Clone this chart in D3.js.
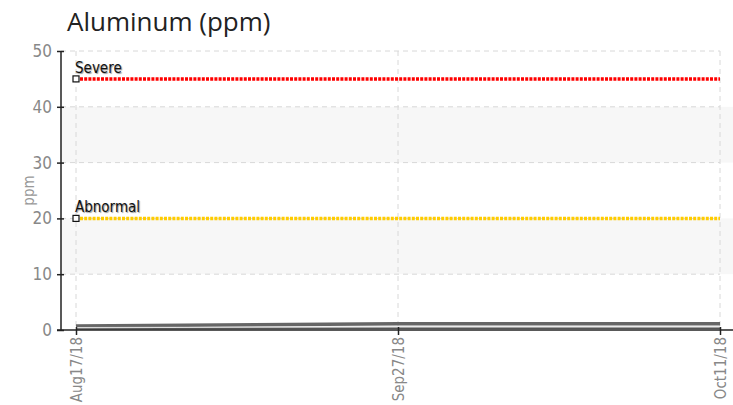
<!DOCTYPE html>
<html>
<head>
<meta charset="utf-8">
<script src="https://cdn.jsdelivr.net/npm/d3@7"></script>
<style>
  body { margin: 0; background: #fff; }
  svg { display: block; }
  .narrow, .tick text { font-family: "DejaVu Sans", sans-serif; font-stretch: condensed; }
</style>
</head>
<body>
<div id="chart"></div>
<script>
// Aluminum (ppm) trend chart

const dates = ['Aug17/18', 'Sep27/18', 'Oct11/18'];
const seriesMain = [0.7, 1.1, 1.1];
const seriesMid = [0.45, 0.55, 0.55];
const seriesLow = [0.2, 0.3, 0.3];
const limitSevere = 45;
const limitAbnormal = 20;
const yTicks = [0, 10, 20, 30, 40, 50];
const bands = [[10, 20], [30, 40]];

const width = 733;
const height = 405;
const margin = { top: 51, right: 0, bottom: 75, left: 61 };

const svg = d3.select('#chart')
  .append('svg')
  .attr('width', width)
  .attr('height', height);

const x = d3.scalePoint()
  .domain(dates)
  .range([76, 720]);

const y = d3.scaleLinear()
  .domain([0, 50])
  .range([height - margin.bottom, margin.top]);

// Title
svg.append('text')
  .attr('x', 67)
  .attr('y', 31)
  .attr('font-family', '"Open Sans", sans-serif')
  .attr('font-size', 26)
  .attr('fill', '#222')
  .text('Aluminum (ppm)');

// Shaded bands
svg.append('g')
  .selectAll('rect')
  .data(bands)
  .enter()
  .append('rect')
  .attr('x', margin.left)
  .attr('width', width - margin.left)
  .attr('y', d => y(d[1]))
  .attr('height', d => y(d[0]) - y(d[1]))
  .attr('fill', '#f7f7f7');

// Grid lines
svg.append('g')
  .selectAll('line')
  .data(yTicks.filter(t => t > 0))
  .enter()
  .append('line')
  .attr('x1', margin.left)
  .attr('x2', x(dates[dates.length - 1]))
  .attr('y1', d => y(d))
  .attr('y2', d => y(d))
  .attr('stroke', '#d8d8d8')
  .attr('stroke-dasharray', '5,4');

svg.append('g')
  .selectAll('line')
  .data(dates)
  .enter()
  .append('line')
  .attr('x1', d => x(d))
  .attr('x2', d => x(d))
  .attr('y1', y(50))
  .attr('y2', y(0))
  .attr('stroke', '#d8d8d8')
  .attr('stroke-dasharray', '5,4');

// Limit lines
function limitLine(value, color, label) {
  const g = svg.append('g');
  g.append('line')
    .attr('x1', x(dates[0]) + 4)
    .attr('x2', x(dates[dates.length - 1]))
    .attr('y1', y(value))
    .attr('y2', y(value))
    .attr('stroke', color)
    .attr('stroke-width', 3.5)
    .attr('stroke-dasharray', '3,1.2');
  g.append('rect')
    .attr('x', x(dates[0]) - 3)
    .attr('y', y(value) - 3)
    .attr('width', 6)
    .attr('height', 6)
    .attr('fill', '#fff')
    .attr('stroke', '#111')
    .attr('stroke-width', 1.2);
  g.append('text')
    .attr('class', 'narrow')
    .attr('x', x(dates[0]) - 1)
    .attr('y', y(value) - 6)
    .attr('font-size', 15)
    .attr('fill', '#111')
    .attr('style', 'text-shadow: 1px 1px 1px #999')
    .text(label);
}
limitLine(limitSevere, '#ff0000', 'Severe');
limitLine(limitAbnormal, '#ffcc00', 'Abnormal');

// Data lines
const line = d3.line()
  .x((d, i) => x(dates[i]))
  .y(d => y(d));

svg.append('path')
  .datum(seriesMain)
  .attr('d', line)
  .attr('fill', 'none')
  .attr('stroke', '#666')
  .attr('stroke-width', 3.5);

svg.append('path')
  .datum(seriesMid)
  .attr('d', line)
  .attr('fill', 'none')
  .attr('stroke', '#ddd')
  .attr('stroke-width', 1);

svg.append('path')
  .datum(seriesLow)
  .attr('d', line)
  .attr('fill', 'none')
  .attr('stroke', '#555')
  .attr('stroke-width', 1.5);

// Y axis
const yAxis = svg.append('g')
  .attr('transform', `translate(${margin.left},0)`)
  .call(d3.axisLeft(y).tickValues(yTicks).tickSize(4).tickPadding(5));
yAxis.select('.domain').attr('stroke', '#222').attr('stroke-width', 1.5)
  .attr('d', `M0,${y(50)}V${y(0)}`);
yAxis.selectAll('.tick line').attr('x2', -4).attr('x1', 3).attr('stroke', '#222').attr('stroke-width', 1.5);
yAxis.selectAll('.tick text').attr('font-size', 17).attr('fill', '#888');

// X axis
const xAxis = svg.append('g')
  .attr('transform', `translate(0,${y(0)})`)
  .call(d3.axisBottom(x).tickSize(4).tickPadding(0));
xAxis.select('.domain').attr('stroke', '#222').attr('stroke-width', 1.5)
  .attr('d', `M${margin.left - 4},0H${width}`);
xAxis.selectAll('.tick line').attr('y1', -3).attr('y2', 5).attr('stroke', '#222').attr('stroke-width', 1.5);
xAxis.selectAll('.tick text')
  .attr('font-size', 15)
  .attr('fill', '#888')
  .attr('text-anchor', 'end')
  .attr('dy', '0.35em')
  .attr('transform', 'translate(0,7) rotate(-90)')
  .attr('x', 0)
  .attr('y', 0);

// Y label
svg.append('text')
  .attr('class', 'narrow')
  .attr('transform', `translate(34,${(y(0) + y(50)) / 2}) rotate(-90)`)
  .attr('text-anchor', 'middle')
  .attr('font-size', 15)
  .attr('fill', '#999')
  .text('ppm');
</script>
</body>
</html>
